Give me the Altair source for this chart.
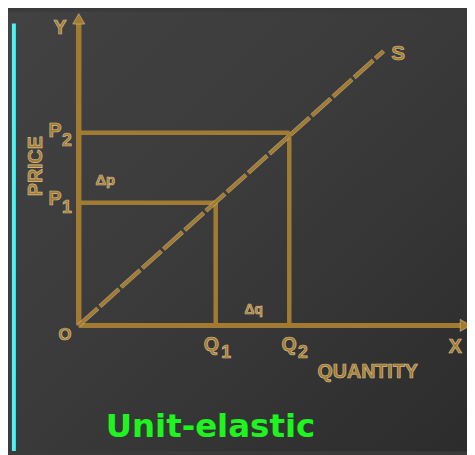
import altair as alt
import pandas as pd

# --- data (economic units: quantity q, price p) ---
Q1, Q2 = 1.99, 3.06
P1, P2 = 1.98, 3.11
S_END = 4.43
X_END, Y_END = 5.55, 4.9

label_text = ["Y", "S", "P", "2", "P", "1", "Δp", "Δq", "O", "Q", "1", "Q", "2", "X", "QUANTITY"]
label_q = [-0.271, 4.643, -0.343, -0.171, -0.343, -0.171, 0.386, 2.543, -0.2, 1.929, 2.143, 3.057, 3.257, 5.471, 4.2]
label_p = [4.794, 4.381, 3.143, 2.984, 2.032, 1.889, 2.349, 0.254, -0.159, -0.317, -0.444, -0.317, -0.444, -0.349, -0.762]
label_size = [20, 21, 20, 18, 20, 18, 15, 14, 17, 20, 18, 20, 18, 20, 20]

GOLD = "#a47a2e"
EDGE = "#d6bf8f"
W, H = 467, 447

xs = alt.Scale(domain=[-72 / 70, 395 / 70], nice=False, zero=False)
ys = alt.Scale(domain=[-128 / 63, 319 / 63], nice=False, zero=False)

def X(field="q"):
    return alt.X(field, type="quantitative", scale=xs, axis=None)

def Y(field="p"):
    return alt.Y(field, type="quantitative", scale=ys, axis=None)

bg = alt.Chart(pd.DataFrame({"a": [0]})).mark_rect(
    fill=alt.Gradient(
        gradient="linear", x1=0, y1=0, x2=1, y2=1,
        stops=[alt.GradientStop(color="#424242", offset=0),
               alt.GradientStop(color="#3a3a3a", offset=0.5),
               alt.GradientStop(color="#2c2c2c", offset=1)],
    )
).encode(x=alt.value(0), x2=alt.value(W), y=alt.value(0), y2=alt.value(H))

cyan = alt.Chart(pd.DataFrame({"q": [-0.943], "p": [4.873], "p2": [-2.03]})).mark_rule(
    color="#4ff2f2", strokeWidth=4
).encode(x=X(), y=Y(), y2="p2")

# segments: axes and guides
seg = pd.DataFrame({
    "q":  [0, 0, 0, Q2, 0, Q1],
    "p":  [0, 0, P2, 0, P1, 0],
    "q2": [X_END, 0, Q2, Q2, Q1, Q1],
    "p2": [0, Y_END, P2, P2, P1, P1],
    "w":  [4, 4, 3, 3, 3, 3],
})
seg_edge = alt.Chart(seg).mark_rule(color=EDGE, opacity=0.7, strokeCap="butt").encode(
    x=X(), y=Y(), x2="q2", y2="p2", strokeWidth=alt.StrokeWidth("w:Q", scale=alt.Scale(domain=[3, 4], range=[4, 5]), legend=None)
)
seg_main = alt.Chart(seg).mark_rule(color=GOLD, strokeCap="butt").encode(
    x=X(), y=Y(), x2="q2", y2="p2", strokeWidth=alt.StrokeWidth("w:Q", scale=alt.Scale(domain=[3, 4], range=[2.4, 3.2]), legend=None)
)

sline = pd.DataFrame({"q": [0], "p": [0], "q2": [S_END], "p2": [S_END]})
s_edge = alt.Chart(sline).mark_rule(color=EDGE, opacity=0.7, strokeWidth=4.5, strokeDash=[26, 3]).encode(
    x=X(), y=Y(), x2="q2", y2="p2")
s_main = alt.Chart(sline).mark_rule(color=GOLD, strokeWidth=3, strokeDash=[26, 3]).encode(
    x=X(), y=Y(), x2="q2", y2="p2")

arrows = alt.Chart(pd.DataFrame({
    "q": [5.62, 0], "p": [0, 4.95], "shape": ["triangle-right", "triangle-up"]
})).mark_point(filled=True, color=GOLD, size=150, opacity=1, stroke=EDGE, strokeWidth=0.6).encode(
    x=X(), y=Y(), shape=alt.Shape("shape:N", scale=None, legend=None)
)

labels = alt.Chart(pd.DataFrame({
    "t": label_text, "q": label_q, "p": label_p, "s": label_size
})).mark_text(
    font="Liberation Sans", fontWeight="bold", color=GOLD, stroke=EDGE, strokeWidth=0.7,
    align="center", baseline="middle"
).encode(x=X(), y=Y(), text="t:N", size=alt.Size("s:Q", scale=None, legend=None))

price = alt.Chart(pd.DataFrame({"t": ["PRICE"], "q": [-0.614], "p": [2.571]})).mark_text(
    font="Liberation Sans", fontWeight="bold", fontSize=20, angle=270, color=GOLD, stroke=EDGE,
    strokeWidth=0.7, align="center", baseline="middle"
).encode(x=X(), y=Y(), text="t:N")

title = alt.Chart(pd.DataFrame({"t": ["Unit-elastic"], "q": [1.914], "p": [-1.651]})).mark_text(
    font="DejaVu Sans", fontWeight="bold", fontSize=33, color="#1ef51e", align="center", baseline="middle"
).encode(x=X(), y=Y(), text="t:N")

chart = alt.layer(bg, cyan, seg_edge, seg_main, s_edge, s_main, arrows, labels, price, title).properties(
    width=W, height=H, padding=0, autosize=alt.AutoSizeParams(type="none"), background="#3a3a3a"
).configure_view(stroke=None)

chart.save("out.html", embed_options={"renderer": "svg", "actions": False})
